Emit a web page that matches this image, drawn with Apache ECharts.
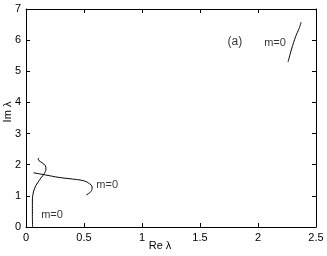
<!DOCTYPE html>
<html><head><meta charset="utf-8">
<script src="https://cdn.jsdelivr.net/npm/echarts@6/dist/echarts.min.js"></script>
<style>html,body{margin:0;padding:0;background:#fff}#c{width:327px;height:256px}</style>
</head><body><div id="c"></div>
<script>
// Data
const xTicks = [0, 0.5, 1, 1.5, 2, 2.5];
const yTicks = [0, 1, 2, 3, 4, 5, 6, 7];
// Curve A (near-vertical wiggly branch from the origin)
const curveA = [[0.057,0],[0.055,0.4],[0.055,0.8],[0.06,1.05],[0.075,1.25],[0.1,1.42],[0.13,1.58],[0.158,1.72],[0.172,1.86],[0.166,1.97],[0.14,2.06],[0.112,2.13],[0.105,2.18],[0.112,2.22]];
// Curve B (horizontal-ish branch bending down)
const curveB = [[0.065,1.74],[0.17,1.67],[0.287,1.59],[0.4,1.54],[0.49,1.49],[0.54,1.41],[0.57,1.28],[0.56,1.14],[0.52,1.03]];
// Curve C (top right segment)
const curveC = [[2.259,5.30],[2.29,5.72],[2.325,6.12],[2.355,6.38],[2.372,6.58]];
// Text annotations [x, y, text]
const annotations = [[0.224,0.39,'m=0'],[0.70,1.35,'m=0'],[2.147,5.91,'m=0'],[1.80,5.96,'(a)']];

const font = 'Liberation Sans, Arial, Helvetica, sans-serif';
const chart = echarts.init(document.getElementById('c'), null, {renderer:'canvas'});
const axisCommon = {
  type:'value', min:0,
  axisLine:{show:true, onZero:false, lineStyle:{color:'#000', width:1}},
  axisTick:{show:true, inside:true, length:4, lineStyle:{color:'#000'}},
  splitLine:{show:false},
  axisLabel:{color:'#000', fontFamily:font, fontSize:11, margin:5}
};
const lineSeries = (d) => ({type:'line', data:d, smooth:0.4, symbol:'none', lineStyle:{color:'#000', width:1}, xAxisIndex:0, yAxisIndex:0, silent:true, animation:false});
chart.setOption({
  animation:false,
  grid:{left:26, right:11, top:9, bottom:29, containLabel:false, outerBoundsMode:'none'},
  xAxis:[
    Object.assign({}, axisCommon, {position:'bottom', max:2.5, interval:0.5, name:'Re λ', nameLocation:'middle', nameGap:13, nameMoveOverlap:false,
      nameTextStyle:{color:'#000', fontFamily:font, fontSize:11, padding:[0,22,0,0]},
      axisLabel:Object.assign({}, axisCommon.axisLabel, {formatter:(v)=>String(v)})}),
    Object.assign({}, axisCommon, {position:'top', max:2.5, interval:0.5, axisLabel:{show:false}})
  ],
  yAxis:[
    Object.assign({}, axisCommon, {position:'left', max:7, interval:1, name:'Im λ', nameLocation:'middle', nameGap:13, nameRotate:90, nameMoveOverlap:false,
      nameTextStyle:{color:'#000', fontFamily:font, fontSize:11, padding:[0,0,0,12]}}),
    Object.assign({}, axisCommon, {position:'right', max:7, interval:1, axisLabel:{show:false}})
  ],
  series:[
    lineSeries(curveA), lineSeries(curveB), lineSeries(curveC),
    {type:'scatter', symbolSize:0, silent:true, animation:false,
     data:annotations.map(a=>({value:[a[0],a[1]], label:{show:true, position:'inside', formatter:a[2], color:'#000', fontFamily:font, fontSize:a[2]==='(a)'?12:11}}))}
  ]
});
</script></body></html>
